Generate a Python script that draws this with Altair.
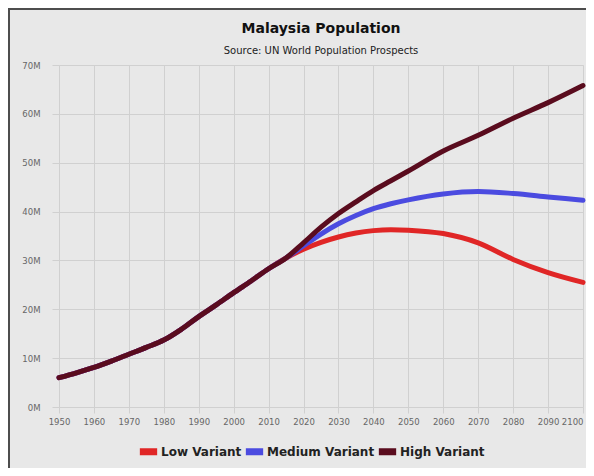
import altair as alt
import pandas as pd

# Historical population (millions), shared by all variants
hist_years = [1950, 1955, 1960, 1965, 1970, 1975, 1980, 1985, 1990, 1995, 2000, 2005, 2010, 2015]
hist_pop = [6.0, 7.0, 8.1, 9.4, 10.8, 12.2, 13.7, 15.9, 18.5, 20.9, 23.4, 25.8, 28.3, 30.5]

# Projections (millions)
proj_years = [2020, 2025, 2030, 2035, 2040, 2045, 2050, 2060, 2070, 2080, 2090, 2100]
low_pop = [32.3, 33.7, 34.8, 35.6, 36.1, 36.3, 36.2, 35.5, 33.6, 30.2, 27.5, 25.5]
medium_pop = [33.0, 35.4, 37.5, 39.2, 40.6, 41.6, 42.4, 43.6, 44.1, 43.7, 43.0, 42.3]
high_pop = [33.6, 36.8, 39.6, 42.0, 44.3, 46.3, 48.3, 52.4, 55.6, 59.1, 62.3, 65.8]

variants = ["Low Variant", "Medium Variant", "High Variant"]
colors = ["#e02626", "#4b4be0", "#5a0c1e"]
x_ticks = list(range(1950, 2101, 10))
y_ticks = list(range(0, 71, 10))

rows = []
for name, proj in zip(variants, [low_pop, medium_pop, high_pop]):
    for yr, v in zip(hist_years + proj_years, hist_pop + proj):
        rows.append({"year": yr, "pop": v, "variant": name})
df = pd.DataFrame(rows)

W, H = 524, 342

lines = alt.Chart(df).mark_line(
    strokeWidth=5, strokeCap="round", strokeJoin="round", interpolate="monotone"
).encode(
    x=alt.X("year:Q",
            scale=alt.Scale(domain=[1950, 2100], nice=False, zero=False),
            axis=alt.Axis(values=x_ticks, format="d", title=None, domain=False,
                          grid=True, gridColor="#d0d0d0", tickColor="#d0d0d0",
                          tickSize=6, labelPadding=4, labelOverlap=False,
                          labelFlush=False, labelColor="#666", labelFontSize=8.5,
                          labelAlign={"expr": "datum.value == 2100 ? 'right' : 'center'"})),
    y=alt.Y("pop:Q",
            scale=alt.Scale(domain=[0, 70], nice=False),
            axis=alt.Axis(values=y_ticks, labelExpr="datum.value + 'M'", title=None,
                          domain=False, grid=True, gridColor="#d0d0d0",
                          tickColor="#d0d0d0", tickSize=7, labelPadding=12,
                          labelColor="#666", labelFontSize=8.5)),
    color=alt.Color("variant:N",
                    scale=alt.Scale(domain=variants, range=colors),
                    legend=alt.Legend(title=None, orient="none", direction="horizontal",
                                      legendX=77, legendY=374,
                                      symbolType="stroke", symbolStrokeWidth=7,
                                      symbolSize=300, labelFontSize=12,
                                      labelFontWeight="bold", labelColor="#222",
                                      labelOffset=0, columnPadding=-12)),
    detail="variant:N",
)

frame = alt.Chart(pd.DataFrame({"a": [0]})).mark_rect(
    fill="transparent", stroke="#4d4d4d", strokeWidth=2
).encode(
    x=alt.value(-50), x2=alt.value(700), y=alt.value(-56), y2=alt.value(600)
)

chart = alt.layer(frame, lines).properties(
    width=W, height=H,
    title=alt.TitleParams(
        text="Malaysia Population",
        subtitle="Source: UN World Population Prospects",
        anchor="middle", fontSize=14, fontWeight="bold", color="#111",
        subtitleFontSize=10, subtitleColor="#222", subtitlePadding=10, offset=4,
        dy=52, font="DejaVu Sans", subtitleFont="DejaVu Sans",
    ),
    autosize=alt.AutoSizeParams(type="none"),
    padding={"left": 51, "top": 57, "right": 3, "bottom": 61},
    background="#e8e8e8",
).configure_view(stroke=None).configure(font="DejaVu Sans")

chart.save("out.html", embed_options={"renderer": "svg", "actions": False})
